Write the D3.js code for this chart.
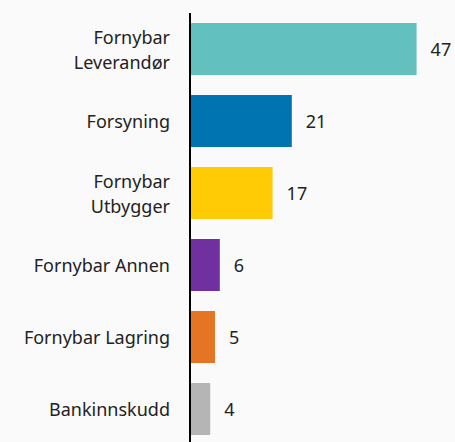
<!DOCTYPE html>
<html>
<head>
<meta charset="utf-8">
<script src="https://cdn.jsdelivr.net/npm/d3@7"></script>
<style>
  html, body { margin: 0; padding: 0; background: #fafafa; }
</style>
</head>
<body>
<div id="chart"></div>
<script>
// Data
const categories = [["Fornybar", "Leverandør"], ["Forsyning"], ["Fornybar", "Utbygger"], ["Fornybar Annen"], ["Fornybar Lagring"], ["Bankinnskudd"]];
const values = [47, 21, 17, 6, 5, 4];
const colors = ["#62c1bf", "#0073b1", "#ffcb05", "#7030a0", "#e57424", "#b5b5b5"];

const width = 455;
const height = 442;
const font = "'Noto Sans', 'Open Sans', sans-serif";

const svg = d3.select("#chart")
  .append("svg")
  .attr("width", width)
  .attr("height", height)
  .style("display", "block");

const keys = categories.map((c, i) => i);

// Band scale for the rows
const y = d3.scaleBand()
  .domain(keys)
  .range([13, 445])
  .paddingInner(0.2778)
  .paddingOuter(0.1389);

// Linear scale for the bar lengths
const x = d3.scaleLinear()
  .domain([0, 47])
  .range([191, 416.6]);

// Bars
svg.append("g")
  .selectAll("rect")
  .data(keys)
  .join("rect")
  .attr("x", x(0))
  .attr("y", i => y(i))
  .attr("width", i => x(values[i]) - x(0))
  .attr("height", y.bandwidth())
  .attr("fill", i => colors[i]);

// Value labels
svg.append("g")
  .attr("font-family", font)
  .attr("font-size", 18)
  .attr("fill", "#222")
  .selectAll("text")
  .data(keys)
  .join("text")
  .attr("x", i => x(values[i]) + 14)
  .attr("y", i => y(i) + y.bandwidth() / 2 + 1)
  .attr("dy", "0.35em")
  .text(i => values[i]);

// Category labels (one or two lines)
svg.append("g")
  .attr("font-family", font)
  .attr("font-size", 18)
  .attr("fill", "#222")
  .attr("text-anchor", "end")
  .selectAll("text")
  .data(keys)
  .join("text")
  .selectAll("tspan")
  .data(i => categories[i].map((t, j, arr) => ({
    t,
    cy: y(i) + y.bandwidth() / 2 + 1 + (j - (arr.length - 1) / 2) * 25
  })))
  .join("tspan")
  .attr("x", 170)
  .attr("y", d => d.cy)
  .attr("dy", "0.35em")
  .text(d => d.t);

// Vertical axis line
svg.append("line")
  .attr("x1", 190)
  .attr("x2", 190)
  .attr("y1", 13)
  .attr("y2", height)
  .attr("stroke", "#000")
  .attr("stroke-width", 2);
</script>
</body>
</html>
